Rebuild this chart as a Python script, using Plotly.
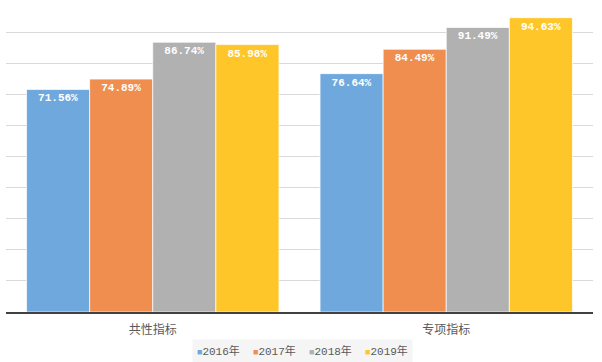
import plotly.graph_objects as go

categories = ["共性指标", "专项指标"]
years = ["2016年", "2017年", "2018年", "2019年"]
v2016 = [71.56, 76.64]
v2017 = [74.89, 84.49]
v2018 = [86.74, 91.49]
v2019 = [85.98, 94.63]
series = [v2016, v2017, v2018, v2019]
colors = ["#6FA8DC", "#EF8E4F", "#B1B1B1", "#FFC629"]

fig = go.Figure()
for name, vals, c in zip(years, series, colors):
    fig.add_trace(go.Bar(
        x=categories, y=vals, name=name,
        marker=dict(color=c, line=dict(color="rgba(255,255,255,0.7)", width=1)),
        text=[f"{v:.2f}%" for v in vals],
        textposition="inside", insidetextanchor="end",
        textangle=0,
        textfont=dict(family="Liberation Mono, Noto Sans CJK SC", size=11,
                      color="white", weight="bold"),
    ))

# legend drawn as a compact text row (square + label), like the original
sep = "&nbsp;" * 2
legend_text = sep.join(
    f"<span style='color:{c};font-size:9px'>■</span>{y}" for y, c in zip(years, colors)
)
fig.add_annotation(
    text=legend_text, xref="paper", yref="paper", x=0.505, y=-0.1254,
    xanchor="center", yanchor="middle", showarrow=False,
    font=dict(family="Liberation Mono, Noto Sans CJK SC", size=11, color="#595959"),
    bgcolor="#F5F5F5", borderpad=4,
)

fig.update_layout(
    width=602, height=362,
    margin=dict(l=6, r=9, t=1, b=50, autoexpand=False),
    paper_bgcolor="white", plot_bgcolor="white",
    barmode="group", bargap=0.14, bargroupgap=0,
    font=dict(family="Liberation Serif, Noto Sans CJK SC", size=12, color="#595959"),
    showlegend=False,
    uniformtext=dict(mode="show", minsize=11),
)
fig.update_yaxes(range=[0, 100], dtick=10, showticklabels=False,
                 showgrid=True, gridcolor="#D9D9D9", gridwidth=1,
                 zeroline=False, showline=False, automargin=False)
fig.update_xaxes(showline=True, linecolor="#404040", linewidth=2,
                 tickfont=dict(family="Noto Sans CJK SC", size=12, color="#595959"),
                 ticks="", showgrid=False, automargin=False, ticklabelstandoff=6)

fig.write_html("out.html", config={"displayModeBar": False},
               post_script="document.body.style.margin='0';document.body.style.padding='0';")
